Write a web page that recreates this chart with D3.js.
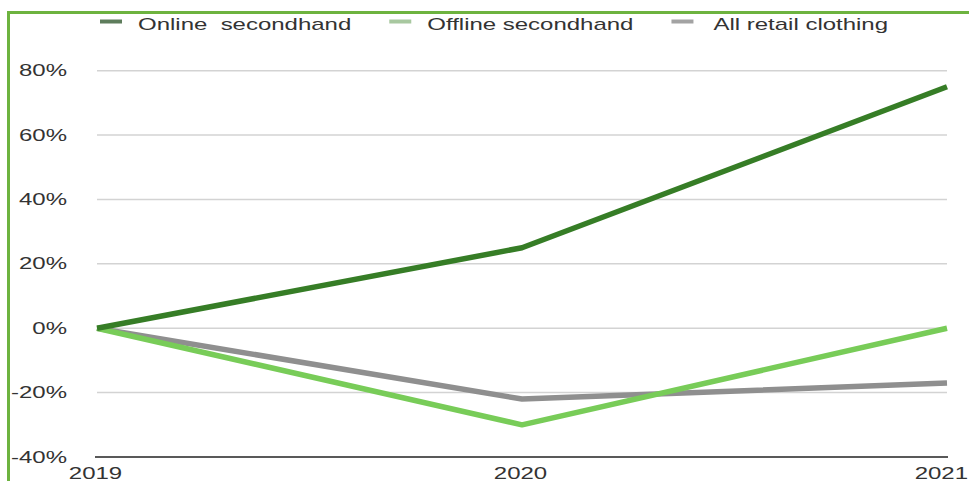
<!DOCTYPE html>
<html>
<head>
<meta charset="utf-8">
<script src="https://cdn.jsdelivr.net/npm/d3@7"></script>
<style>
  html, body { margin: 0; padding: 0; background: #fff; }
  svg { display: block; }
  text { font-family: "Liberation Sans", Arial, Helvetica, sans-serif; fill: #333; }
</style>
</head>
<body>
<svg id="chart" width="969" height="481"></svg>
<script>
// Growth index relative to 2019 (%)
const years = ["2019", "2020", "2021"];
const onlineSecondhand = [0, 25, 75];
const offlineSecondhand = [0, -30, 0];
const allRetailClothing = [0, -22, -17];
const yTicks = [-40, -20, 0, 20, 40, 60, 80];

const seriesNames = ["Online  secondhand", "Offline secondhand", "All retail clothing"];
const seriesColors = ["#367d26", "#78cc58", "#8f8f8f"];
const legendColors = ["#5e7d5c", "#a8c8a0", "#a3a3a3"];

const W = 969, H = 481;
const stretch = 1.5; // wide lettering
const svg = d3.select("#chart");

// frame
svg.append("rect")
  .attr("x", 8.5).attr("y", 12.5)
  .attr("width", W + 10).attr("height", H + 10)
  .attr("fill", "none").attr("stroke", "#6db33f").attr("stroke-width", 3);

const x = d3.scalePoint().domain(years).range([97, 947]);
const y = d3.scaleLinear().domain([-40, 80]).range([457, 70.7]);

// gridlines
svg.append("g").selectAll("line")
  .data(yTicks.filter(t => t > -40))
  .join("line")
  .attr("x1", x.range()[0]).attr("x2", x.range()[1])
  .attr("y1", d => y(d)).attr("y2", d => y(d))
  .attr("stroke", "#d3d3d3").attr("stroke-width", 1.5);

// baseline
svg.append("line")
  .attr("x1", x.range()[0] - 2).attr("x2", x.range()[1] + 1)
  .attr("y1", y(-40)).attr("y2", y(-40))
  .attr("stroke", "#222").attr("stroke-width", 1.6);

// y tick labels
svg.append("g").selectAll("text")
  .data(yTicks)
  .join("text")
  .attr("transform", d => `translate(67,${y(d) + 5.5}) scale(${stretch},1)`)
  .attr("text-anchor", "end")
  .style("font-size", "16px")
  .text(d => d + "%");

// x tick labels, kept inside the right edge
svg.append("g").selectAll("text")
  .data(years)
  .join("text")
  .attr("text-anchor", "middle")
  .style("font-size", "16px")
  .text(d => d)
  .each(function (d) {
    const half = this.getComputedTextLength() * stretch / 2;
    const cx = Math.min(x(d) - 1.5, W - 1 - half);
    d3.select(this).attr("transform", `translate(${cx},478.5) scale(${stretch},1)`);
  });

// lines
const line = d3.line().x((d, i) => x(years[i])).y(d => y(d));
const series = [allRetailClothing, offlineSecondhand, onlineSecondhand];
const seriesCol = [seriesColors[2], seriesColors[1], seriesColors[0]];
svg.append("g").selectAll("path")
  .data(series)
  .join("path")
  .attr("d", d => line(d))
  .attr("fill", "none")
  .attr("stroke", (d, i) => seriesCol[i])
  .attr("stroke-width", 5.5)
  .attr("stroke-linejoin", "round");

// legend
const legend = svg.append("g");
let lx = 100;
const textGap = [38, 38, 42];
seriesNames.forEach((name, i) => {
  legend.append("rect")
    .attr("x", lx).attr("y", 19.5)
    .attr("width", 22).attr("height", 4)
    .attr("fill", legendColors[i]);
  const t = legend.append("text")
    .attr("transform", `translate(${lx + textGap[i]},29.5) scale(${stretch},1)`)
    .style("font-size", "16px")
    .style("white-space", "pre")
    .text(name);
  const w = t.node().getComputedTextLength() * stretch;
  lx = lx + textGap[i] + w + 38;
});
</script>
</body>
</html>
